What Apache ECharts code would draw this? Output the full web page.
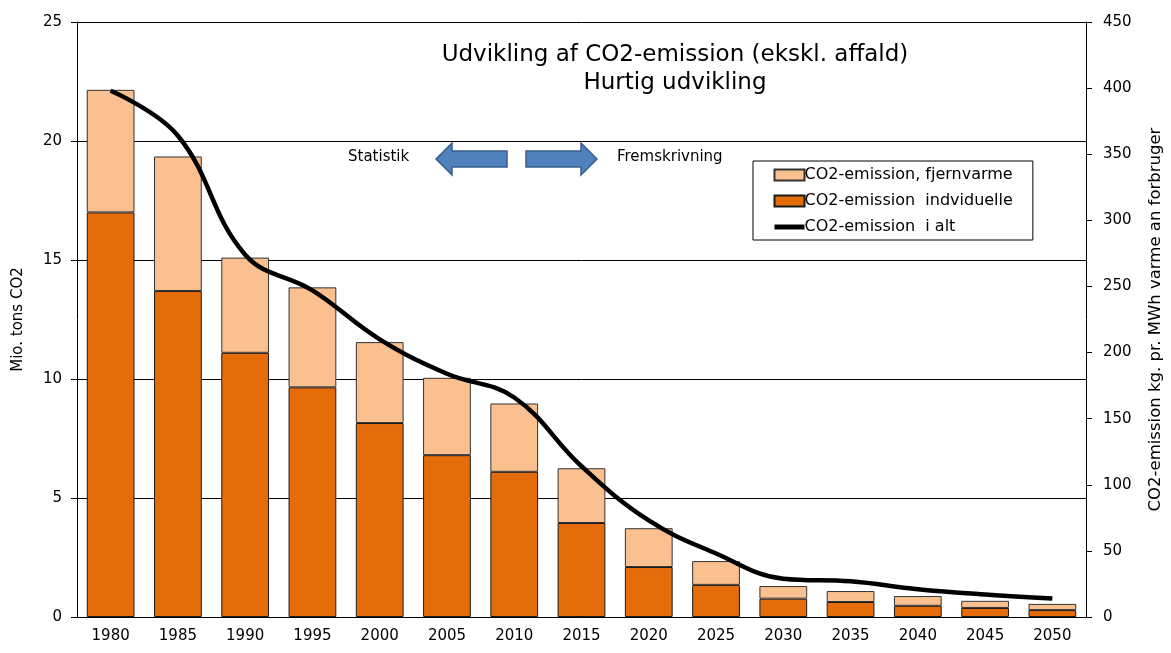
<!DOCTYPE html>
<html>
<head>
<meta charset="utf-8">
<script src="https://cdn.jsdelivr.net/npm/echarts@6/dist/echarts.min.js"></script>
<style>
  html, body { margin: 0; padding: 0; background: #fff; }
  #chart { width: 1171px; height: 653px; }
</style>
</head>
<body>
<div id="chart"></div>
<script>
var years = ['1980', '1985', '1990', '1995', '2000', '2005', '2010', '2015', '2020', '2025', '2030', '2035', '2040', '2045', '2050'];
// Mio. tons CO2, individual heating (bottom of stack)
var individuelle = [17.0, 13.7, 11.1, 9.65, 8.15, 6.8, 6.1, 3.95, 2.1, 1.35, 0.77, 0.63, 0.47, 0.38, 0.29];
// Mio. tons CO2, district heating (top of stack)
var fjernvarme = [5.15, 5.65, 4.0, 4.2, 3.4, 3.25, 2.87, 2.3, 1.63, 1.0, 0.53, 0.46, 0.41, 0.3, 0.26];
// kg CO2 per MWh heat per consumer (right axis)
var iAlt = [398, 364, 274, 247, 210, 184, 166, 114, 73, 48, 29, 27, 21, 17, 14];

var font = 'DejaVu Sans, Verdana, sans-serif';
var chart = echarts.init(document.getElementById('chart'));

chart.setOption({
  animation: false,
  textStyle: { fontFamily: font, color: '#000' },
  grid: { left: 77, right: 85, top: 22, bottom: 36, outerBoundsMode: 'none', containLabel: false },
  legend: {
    orient: 'vertical',
    left: 753,
    top: 161,
    width: 289,
    padding: [6, 20, 5, 19],
    itemGap: 10,
    itemWidth: 30,
    itemHeight: 11,
    borderColor: '#000',
    borderWidth: 1,
    textStyle: { fontSize: 16, fontFamily: font, color: '#000', padding: [0, 0, 0, -5] },
    data: [
      { name: 'CO2-emission, fjernvarme', icon: 'rect' },
      { name: 'CO2-emission  indviduelle', icon: 'rect' },
      { name: 'CO2-emission  i alt', itemStyle: { opacity: 0 }, lineStyle: { width: 5, color: '#000' } }
    ]
  },
  xAxis: {
    type: 'category',
    data: years,
    axisLine: { lineStyle: { color: '#000', width: 1 } },
    axisTick: { length: 6, lineStyle: { color: '#000' } },
    axisLabel: { fontSize: 15, color: '#000', margin: 12 }
  },
  yAxis: [
    {
      type: 'value',
      min: 0,
      max: 25,
      interval: 5,
      name: 'Mio. tons CO2',
      nameLocation: 'middle',
      nameRotate: 90,
      nameGap: 51,
      nameTextStyle: { fontSize: 15, color: '#000' },
      axisLine: { show: true, lineStyle: { color: '#000' } },
      axisTick: { show: true, length: 6, lineStyle: { color: '#000' } },
      axisLabel: { fontSize: 15, color: '#000', margin: 15 },
      splitLine: { lineStyle: { color: '#000', width: 1 } }
    },
    {
      type: 'value',
      min: 0,
      max: 450,
      interval: 50,
      name: 'CO2-emission kg. pr. MWh varme an forbruger',
      nameLocation: 'middle',
      nameRotate: 90,
      nameGap: 61,
      nameTextStyle: { fontSize: 16.5, color: '#000' },
      axisLine: { show: true, lineStyle: { color: '#000' } },
      axisTick: { show: true, length: 6, lineStyle: { color: '#000' } },
      axisLabel: { fontSize: 15, color: '#000', margin: 17 },
      splitLine: { show: false }
    }
  ],
  series: [
    {
      name: 'CO2-emission  indviduelle',
      type: 'bar',
      stack: 'co2',
      data: individuelle,
      barCategoryGap: '29%',
      itemStyle: { color: '#E46C0A', borderColor: '#1a1a1a', borderWidth: 1 }
    },
    {
      name: 'CO2-emission, fjernvarme',
      type: 'bar',
      stack: 'co2',
      data: fjernvarme,
      itemStyle: { color: '#FAC090', borderColor: '#333', borderWidth: 1 }
    },
    {
      name: 'CO2-emission  i alt',
      type: 'line',
      yAxisIndex: 1,
      data: iAlt,
      smooth: 0.4,
      symbol: 'none',
      lineStyle: { color: '#000', width: 4.5 },
      itemStyle: { color: '#000' }
    }
  ],
  graphic: [
    {
      type: 'text',
      x: 675,
      y: 41,
      style: {
        text: 'Udvikling af CO2-emission (ekskl. affald)\nHurtig udvikling',
        font: '23px "DejaVu Sans", sans-serif',
        fill: '#000',
        align: 'center',
        lineHeight: 28
      }
    },
    {
      type: 'text',
      x: 348,
      y: 150,
      style: { text: 'Statistik', font: '15px "DejaVu Sans", sans-serif', fill: '#000' }
    },
    {
      type: 'text',
      x: 617,
      y: 150,
      style: { text: 'Fremskrivning', font: '15px "DejaVu Sans", sans-serif', fill: '#000' }
    },
    {
      type: 'polygon',
      shape: { points: [[436, 159], [452, 143], [452, 151], [507, 151], [507, 167], [452, 167], [452, 175]] },
      style: { fill: '#4F81BD', stroke: '#385D8A', lineWidth: 1.5 }
    },
    {
      type: 'polygon',
      shape: { points: [[597, 159], [581, 143], [581, 151], [526, 151], [526, 167], [581, 167], [581, 175]] },
      style: { fill: '#4F81BD', stroke: '#385D8A', lineWidth: 1.5 }
    }
  ]
});
</script>
</body>
</html>
